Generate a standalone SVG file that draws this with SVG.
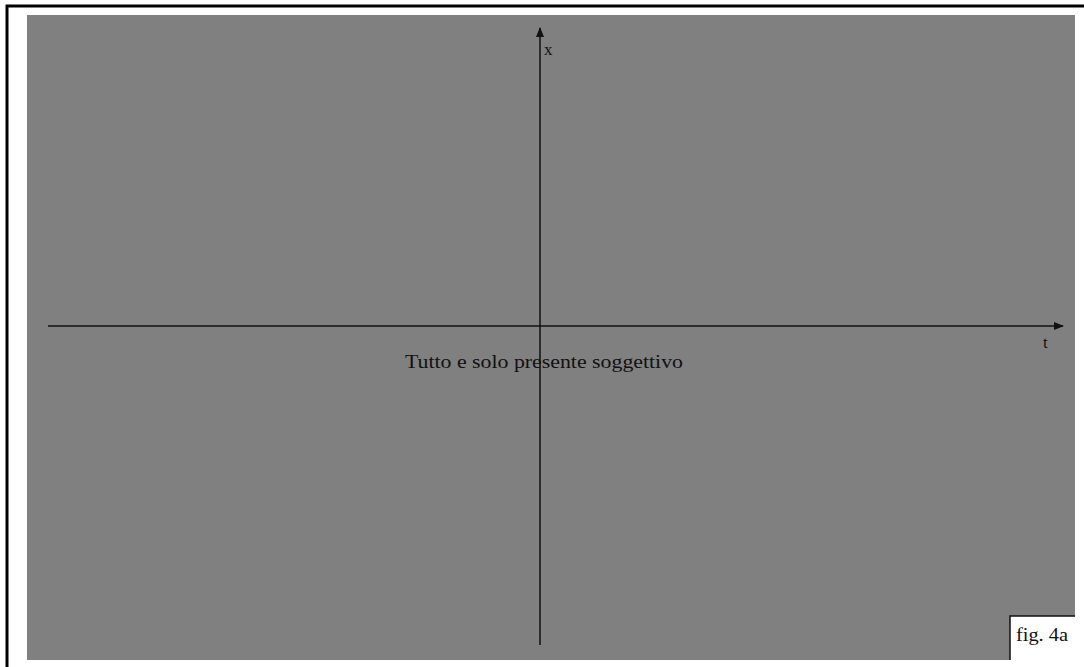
<svg xmlns="http://www.w3.org/2000/svg" width="1084" height="667" viewBox="0 0 1084 667">
<style>
.ax{stroke:#111;stroke-width:1.5;fill:none}
.t{font-family:"Liberation Serif",serif;fill:#111}
</style>
<defs>
<marker id="ar" markerWidth="10" markerHeight="8" refX="9" refY="4" orient="auto" markerUnits="userSpaceOnUse">
<path d="M0,0 L10,4 L0,8 Z" fill="#111"/>
</marker>
</defs>
<rect x="0" y="0" width="1084" height="667" fill="#fff"/>
<path d="M7,667 V6 H1084" stroke="#000" stroke-width="3" fill="none"/>
<rect x="27" y="15" width="1048" height="645" fill="#808080"/>
<g id="connectors">
<line class="ax" x1="48" y1="326" x2="1063" y2="326" marker-end="url(#ar)"/>
<line class="ax" x1="540" y1="645" x2="540" y2="28" marker-end="url(#ar)"/>
</g>
<g id="label-x"><text class="t" x="544" y="55" font-size="17">x</text></g>
<g id="label-t"><text class="t" x="1043" y="348" font-size="17">t</text></g>
<g id="label-main"><text class="t" x="405" y="368" font-size="19" textLength="278" lengthAdjust="spacingAndGlyphs">Tutto e solo presente soggettivo</text></g>
<g id="fig-label">
<rect x="1010" y="616" width="65" height="44" fill="#fff"/>
<path d="M1010,660 V616 H1075" stroke="#111" stroke-width="1.5" fill="none"/>
<text class="t" x="1016" y="641" font-size="18" textLength="52" lengthAdjust="spacingAndGlyphs">fig. 4a</text>
</g>
</svg>
